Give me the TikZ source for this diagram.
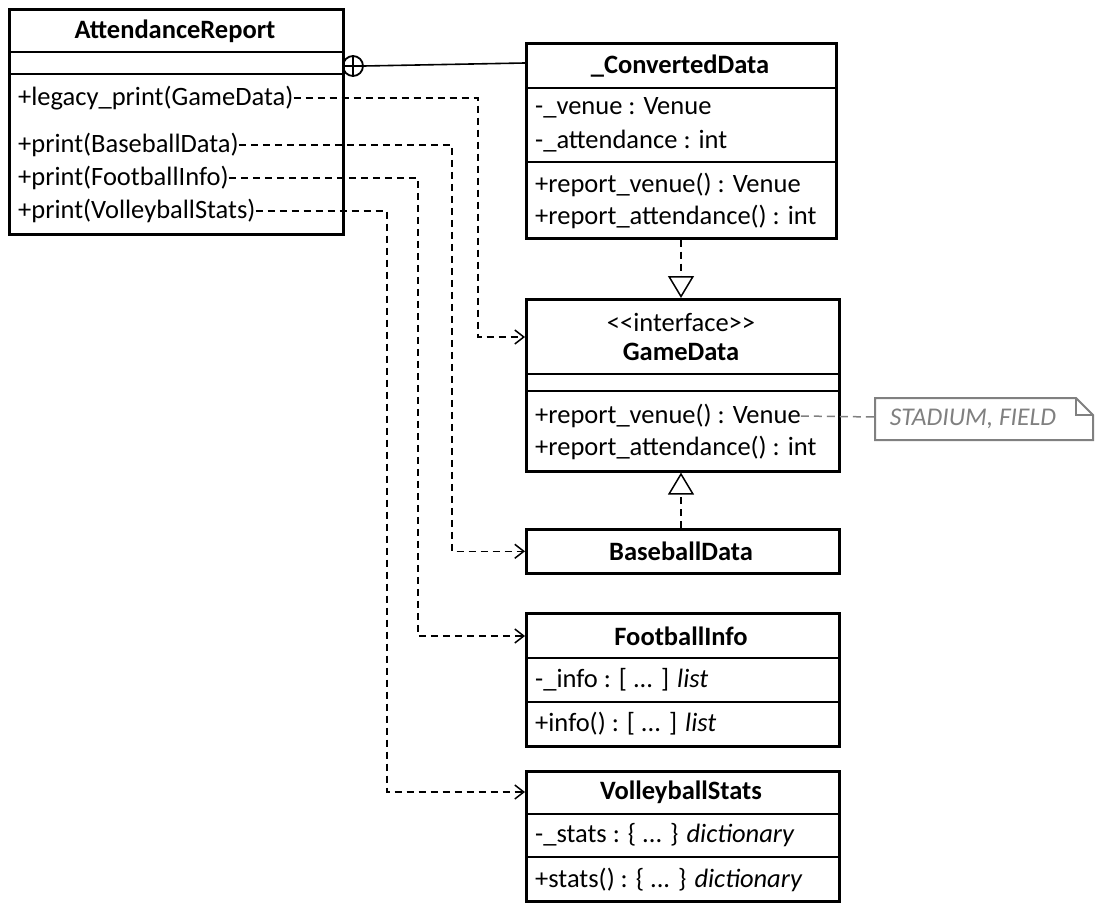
\documentclass[tikz,border=0pt]{standalone}
\usepackage{fontspec}
\setmainfont{Carlito}
\usetikzlibrary{arrows.meta}
\begin{document}
\begin{tikzpicture}[x=1pt,y=-1pt,
  cls/.style={draw,line width=2.6pt,inner sep=0pt,anchor=north west},
  sep/.style={line width=2pt},
  txt/.style={anchor=west,inner sep=0pt,font=\fontsize{26.5}{30}\selectfont},
  ttl/.style={inner sep=0pt,font=\fontsize{26.5}{30}\selectfont\bfseries},
  dep/.style={line width=1.5pt,dash pattern=on 7pt off 5pt,-{Straight Barb[length=9pt,width=14pt,line width=1.5pt]}},
  real/.style={line width=1.5pt,dash pattern=on 7pt off 5pt,-{Triangle[open,length=22pt,width=26pt,line width=1.5pt,fill=white]}}]
\useasboundingbox (0,0) rectangle (1100,912);
\fill[white] (0,0) rectangle (1100,912);
% AttendanceReport
\node[cls,minimum width=334pt,minimum height=225pt] (ar) at (8,8) {};
\draw[sep] (8,52) -- (342,52); \draw[sep] (8,74) -- (342,74);
\node[ttl] (art) at (175,31) {AttendanceReport};
\node[txt] (m1) at (18,98) {+legacy\_print(GameData)};
\node[txt] (m2) at (18,145) {+print(BaseballData)};
\node[txt] (m3) at (18,178) {+print(FootballInfo)};
\node[txt] (m4) at (18,211) {+print(VolleyballStats)};
% ConvertedData
\node[cls,minimum width=310pt,minimum height=195pt] (cd) at (525,42) {};
\draw[sep] (525,88) -- (835,88); \draw[sep] (525,162) -- (835,162);
\node[ttl] (cdt) at (680,66) {\_ConvertedData};
\node[txt] (c1) at (535,108) {-\_venue : Venue};
\node[txt] (c2) at (535,141) {-\_attendance : int};
\node[txt] (c3) at (535,185) {+report\_venue() : Venue};
\node[txt] (c4) at (535,217) {+report\_attendance() : int};
% GameData
\node[cls,minimum width=313pt,minimum height=172pt] (gd) at (525,298) {};
\draw[sep] (525,374) -- (838,374); \draw[sep] (525,391) -- (838,391);
\node[inner sep=0pt,font=\fontsize{26.5}{30}\selectfont] (gds) at (681,322) {{<}{<}interface{>}{>}};
\node[ttl] (gdt) at (681,352) {GameData};
\node[txt] (g1) at (535,416) {+report\_venue() : Venue};
\node[txt] (g2) at (535,448) {+report\_attendance() : int};
% BaseballData
\node[cls,minimum width=313pt,minimum height=44pt] (bd) at (525,528) {};
\node[ttl] (bdt) at (681,551) {BaseballData};
% FootballInfo
\node[cls,minimum width=313pt,minimum height=133pt] (fi) at (525,612) {};
\draw[sep] (525,658) -- (838,658); \draw[sep] (525,702) -- (838,702);
\node[ttl] (fit) at (681,636) {FootballInfo};
\node[txt] (f1) at (535,680) {-\_info : [ ... ] \textit{list}};
\node[txt] (f2) at (535,724) {+info() : [ ... ] \textit{list}};
% VolleyballStats
\node[cls,minimum width=313pt,minimum height=130pt] (vs) at (525,770) {};
\draw[sep] (525,814) -- (838,814); \draw[sep] (525,857) -- (838,857);
\node[ttl] (vst) at (681,792) {VolleyballStats};
\node[txt] (v1) at (535,835) {-\_stats : \{ ... \} \textit{dictionary}};
\node[txt] (v2) at (535,880) {+stats() : \{ ... \} \textit{dictionary}};
% Note
\draw[gray,line width=2pt,fill=white] (875,398) -- (1076,398) -- (1093,415) -- (1093,440) -- (875,440) -- cycle;
\draw[gray,line width=2pt] (1076,398) -- (1076,415) -- (1093,415);
\node[inner sep=0pt,font=\fontsize{25.5}{28}\selectfont\itshape,text=gray] (nt) at (973,419) {STADIUM, FIELD};
\coordinate (nl) at (875,417);
\draw[gray,line width=1.5pt,dash pattern=on 8pt off 5pt] (g1.east) -- (nl);
% nesting
\node[draw,circle,line width=1.8pt,minimum size=20pt,inner sep=0pt] (np) at (353,66) {};
\draw[line width=1.8pt] (np.north) -- (np.south) (np.west) -- (np.east);
\draw[line width=1.6pt] (np.east) -- (525,63);
% realizations
\draw[real] (cd.south -| gdt) -- (gd.north -| gdt);
\draw[real] (bd.north -| bdt) -- (gd.south -| bdt);
% dependencies
\draw[dep] (m1.east) -- (478,98) |- (525,337);
\draw[dep] (m2.east) -- (452,145) |- (bd.west);
\draw[dep] (m3.east) -- (418,178) |- (525,636);
\draw[dep] (m4.east) -- (387,211) |- (525,792);
\end{tikzpicture}
\end{document}
